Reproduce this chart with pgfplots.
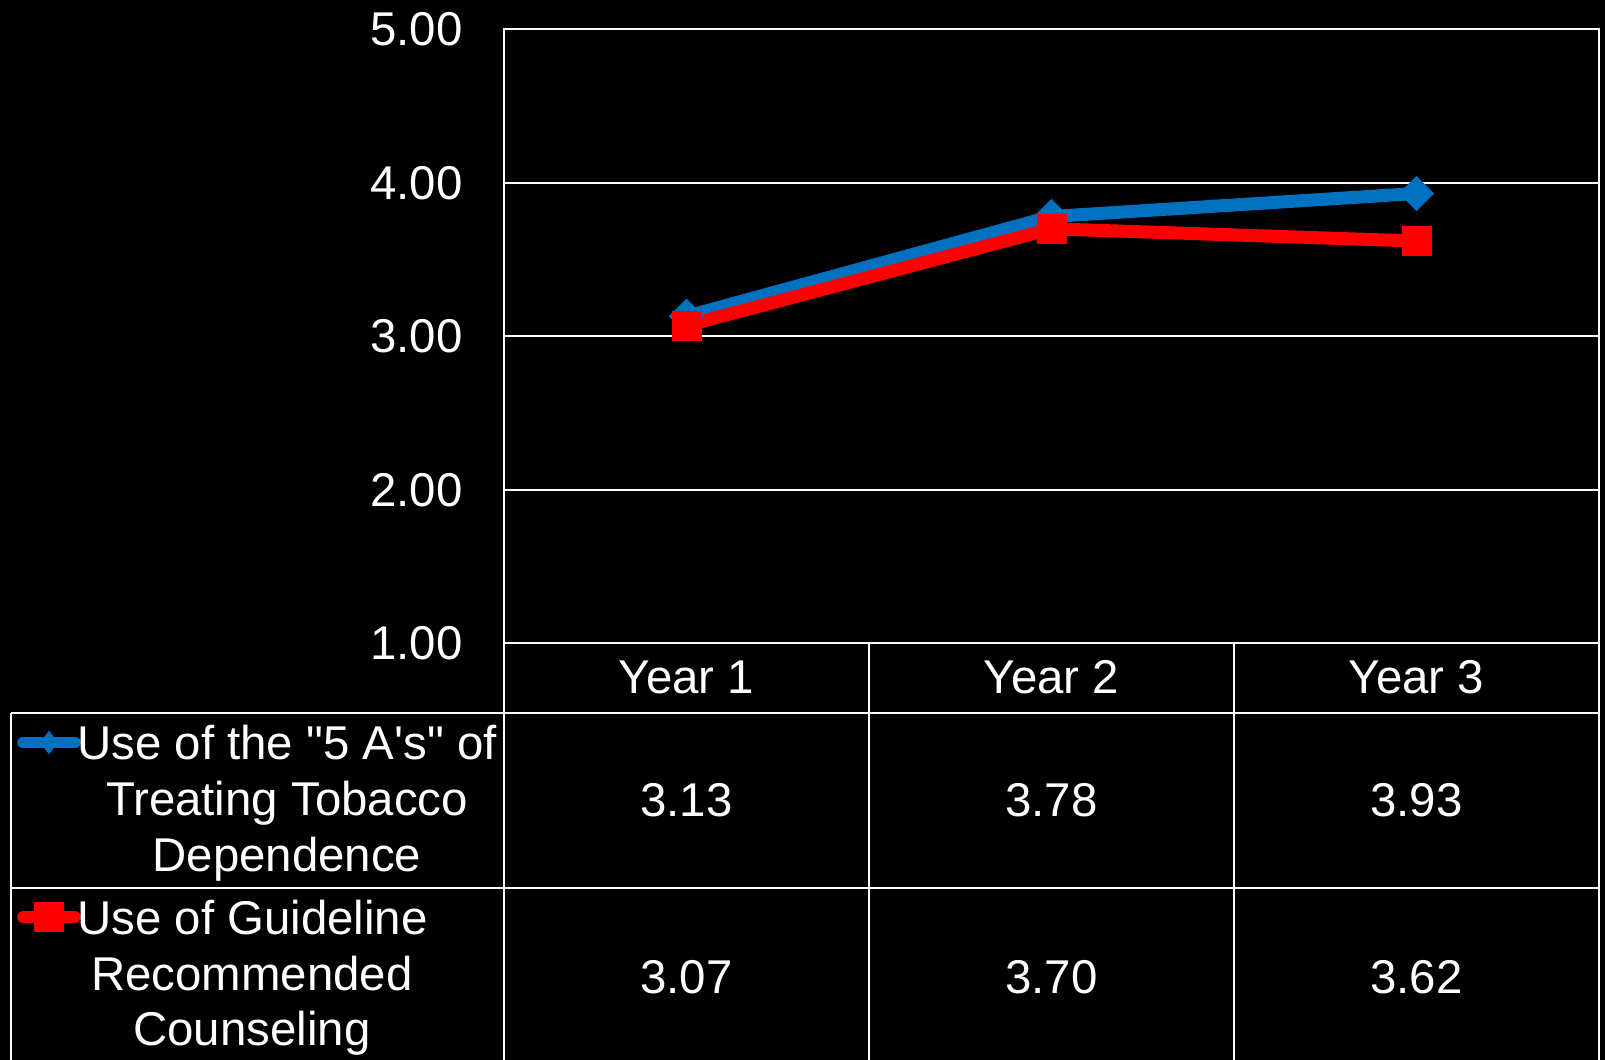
\documentclass[border=0pt]{standalone}
\usepackage{pgfplots}
\pgfplotsset{compat=1.18}
\usepackage{fontspec}
\setmainfont{Liberation Sans}[Ligatures=TeXOff]
\definecolor{serblue}{RGB}{0,112,192}
\definecolor{serred}{RGB}{255,0,0}
\begin{document}
\begin{tikzpicture}[font=\fontsize{23.7bp}{28bp}\selectfont]
\fill[black] (0,0) rectangle (802.5bp,530bp);
\begin{axis}[
  at={(252bp,208.35bp)}, anchor=south west,
  scale only axis, width=547.5bp, height=307.05bp,
  xmin=-0.5, xmax=2.5, ymin=1, ymax=5,
  xtick=\empty, ytick={1,2,3,4,5},
  yticklabels={1.00,2.00,3.00,4.00,5.00},
  major tick length=0pt,
  ymajorgrids, grid style={white, line width=1bp},
  axis line style={white, line width=1bp},
  yticklabel style={anchor=east, inner sep=0pt, xshift=-20.5bp, text=white, font=\fontsize{23.7bp}{28bp}\selectfont},
  clip=false,
  legend style={at={(axis description cs:-0.4445,-0.1436)}, anchor=north west, draw=none, fill=none,
    inner sep=0pt, outer sep=0pt, row sep=74.5bp, nodes={inner sep=0pt, outer sep=0pt}},
  legend image code/.code={\draw[mark repeat=2, mark phase=2, #1] plot coordinates {(0bp,0bp) (13bp,0bp) (26bp,0bp)};},
]
\addlegendimage{serblue, line width=5.75bp, line cap=round, mark=diamond*, mark size=5.5bp, mark options={solid, line width=0.5bp}}
\addlegendentry{\mbox{}}
\addlegendimage{serred, line width=5.75bp, line cap=round, mark=square*, mark size=7.25bp, mark options={solid, line width=0.5bp}}
\addlegendentry{\mbox{}}
\addplot[serblue, line width=6.5bp, line join=round, mark=square*, mark size=6bp,
  mark options={solid, rotate=45, line width=0.5bp}, forget plot]
  coordinates {(0,3.13) (1,3.78) (2,3.93)};
\addplot[serred, line width=6.5bp, line join=round, mark=square*, mark size=7.25bp,
  mark options={solid, line width=0.5bp}, forget plot]
  coordinates {(0,3.07) (1,3.70) (2,3.62)};
\end{axis}
% data table grid
\begin{scope}[white, line width=1bp]
\draw (5.5bp,173.5bp) -- (799.5bp,173.5bp);
\draw (5.5bp,86bp) -- (799.5bp,86bp);
\draw (5.5bp,173.5bp) -- (5.5bp,-5bp);
\draw (252bp,208.35bp) -- (252bp,-5bp);
\draw (434.5bp,208.35bp) -- (434.5bp,-5bp);
\draw (617bp,208.35bp) -- (617bp,-5bp);
\draw (799.5bp,208.35bp) -- (799.5bp,-5bp);
\end{scope}
\begin{scope}[every node/.style={text=white}]
\node at (343.25bp,191.25bp) {Year 1};
\node at (525.75bp,191.25bp) {Year 2};
\node at (708.25bp,191.25bp) {Year 3};
\node at (343.25bp,130bp) {3.13};
\node at (525.75bp,130bp) {3.78};
\node at (708.25bp,130bp) {3.93};
\node at (343.25bp,41.5bp) {3.07};
\node at (525.75bp,41.5bp) {3.70};
\node at (708.25bp,41.5bp) {3.62};
\node[anchor=base] at (143.5bp,150bp) {Use of the "5 A's" of};
\node[anchor=base] at (143.5bp,122bp) {Treating Tobacco};
\node[anchor=base] at (143.5bp,94bp) {Dependence};
\node[anchor=base] at (126.25bp,62.5bp) {Use of Guideline};
\node[anchor=base] at (126bp,35bp) {Recommended};
\node[anchor=base] at (126bp,7.5bp) {Counseling};
\end{scope}
\pgfresetboundingbox
\useasboundingbox (0,0) rectangle (802.5bp,530bp);
\end{tikzpicture}
\end{document}
